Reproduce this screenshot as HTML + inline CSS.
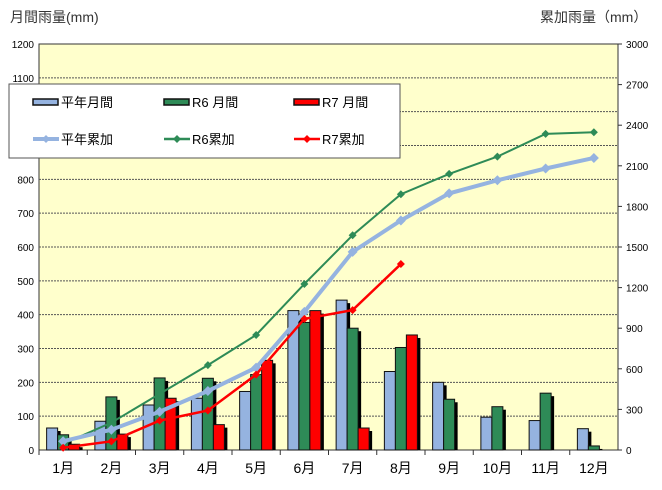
<!DOCTYPE html>
<html><head><meta charset="utf-8">
<style>
body{margin:0;background:#fff;}
svg text{font-family:"Liberation Sans","Noto Sans CJK JP",sans-serif;}
</style></head>
<body>
<svg id="chart" width="662" height="485" viewBox="0 0 662 485" xmlns="http://www.w3.org/2000/svg">
<rect width="662" height="485" fill="#fff"/>
<text x="10" y="22" font-size="14" fill="#333">月間雨量(mm)</text>
<text x="540" y="22" font-size="14" fill="#333">累加雨量（mm）</text>
<rect x="39" y="44" width="579" height="406" fill="#FFFFCC" stroke="#333" stroke-width="1"/>
<g id="grid"></g><g id="bars"></g><g id="lines"></g><g id="axes"></g><g id="legend"></g>
</svg>
<script>
const months=["1月","2月","3月","4月","5月","6月","7月","8月","9月","10月","11月","12月"];
const avgMonthly=[65,85,133,153,173,412,443,232,200,97,87,63];
const r6Monthly=[45,157,213,212,223,377,360,303,150,128,168,12];
const r7Monthly=[17,47,153,75,265,412,65,340];
const avgCum=[65,150,283,436,609,1021,1464,1696,1896,1993,2080,2158];
const r6Cum=[45,202,415,627,850,1227,1587,1890,2040,2168,2336,2348];
const r7Cum=[17,64,217,292,557,969,1034,1374];
const leftTicks=[0,100,200,300,400,500,600,700,800,900,1000,1100,1200];
const rightTicks=[0,300,600,900,1200,1500,1800,2100,2400,2700,3000];

const NS="http://www.w3.org/2000/svg";
const X0=39,X1=618,Y0=450,Y1=44;
const band=(X1-X0)/12;
const yL=v=>Y0-(v/1200)*(Y0-Y1);
const yR=v=>Y0-(v/3000)*(Y0-Y1);
const xC=i=>X0+band*(i+0.5);
function mk(tag,attrs,parent){const e=document.createElementNS(NS,tag);for(const k in attrs)e.setAttribute(k,attrs[k]);parent.appendChild(e);return e;}
const g=document.getElementById('grid'),gb=document.getElementById('bars'),gl=document.getElementById('lines'),ga=document.getElementById('axes'),lg=document.getElementById('legend');

leftTicks.forEach(t=>{
  const y=yL(t);
  if(t>0&&t<1200){const l=mk('line',{x1:X0,x2:X1,y1:y,y2:y,stroke:'#555','stroke-dasharray':'2,1','stroke-width':1},g);
  
  }
  const tx=mk('text',{x:34,y:y+4,'font-size':10,'text-anchor':'end',fill:'#000'},ga);
  tx.textContent=t;
  
  
});
rightTicks.forEach(t=>{
  const y=yR(t);
  mk('line',{x1:X1,x2:X1+4,y1:y,y2:y,stroke:'#333'},ga);
  const tx=mk('text',{x:626,y:y+4,'font-size':10,fill:'#000'},ga);
  tx.textContent=t;
  
  
});
months.forEach((m,i)=>{
  mk('line',{x1:X0+band*i,x2:X0+band*i,y1:Y0,y2:Y0+5,stroke:'#333'},ga);
  const tx=mk('text',{x:xC(i),y:473,'font-size':14,'text-anchor':'middle',fill:'#000'},ga);
  tx.textContent=m;
  
  
});
const bw=11;
function bar(i,k,v,fill,name){
  const x=xC(i)-16.5+k*bw,y=yL(v);
  mk('rect',{x:x+3,y:y+3,width:bw,height:Y0-y-3,fill:'#000'},gb);
  const r=mk('rect',{x:x,y:y,width:bw,height:Y0-y,fill:fill,stroke:'#111','stroke-width':1},gb);
  
  
}
avgMonthly.forEach((v,i)=>bar(i,0,v,'#95B3E0','bar-avg-monthly'));
r6Monthly.forEach((v,i)=>bar(i,1,v,'#2E8B57','bar-r6-monthly'));
r7Monthly.forEach((v,i)=>bar(i,2,v,'#FF0000','bar-r7-monthly'));

function line(arr,color,w,ms,name){
  const pts=arr.map((v,i)=>xC(i)+','+yR(v)).join(' ');
  const p=mk('polyline',{points:pts,fill:'none',stroke:color,'stroke-width':w},gl);
  
  
  arr.forEach((v,i)=>{const x=xC(i),y=yR(v);
    const d=mk('polygon',{points:`${x},${y-ms} ${x+ms},${y} ${x},${y+ms} ${x-ms},${y}`,fill:color},gl);
    
    });
}
line(r6Cum,'#2E8B57',2,4,'line-r6-cumulative');
line(avgCum,'#95B3E0',4,5,'line-avg-cumulative');
line(r7Cum,'#FF0000',2.5,4,'line-r7-cumulative');

// legend
const box=mk('rect',{x:9,y:84,width:391,height:74,fill:'#fff',stroke:'#555'},lg);


const items=[
 ['平年月間','#95B3E0','bar',33,102],['R6 月間','#2E8B57','bar',164,102],['R7 月間','#FF0000','bar',294,102],
 ['平年累加','#95B3E0','line',33,139],['R6累加','#2E8B57','line',164,139],['R7累加','#FF0000','line',294,139]];
items.forEach(([t,c,type,x,y])=>{
  if(type==='bar'){mk('rect',{x:x,y:y-3,width:25,height:6,fill:c,stroke:'#111','stroke-width':1.5},lg);}
  else{mk('line',{x1:x,x2:x+26,y1:y,y2:y,stroke:c,'stroke-width':t==='平年累加'?4:2.5},lg);
       mk('polygon',{points:`${x+13},${y-4} ${x+17},${y} ${x+13},${y+4} ${x+9},${y}`,fill:c},lg);}
  const tx=mk('text',{x:x+28,y:y+5,'font-size':13,fill:'#000'},lg);
  tx.textContent=t;
  
  
});
</script>
</body></html>
